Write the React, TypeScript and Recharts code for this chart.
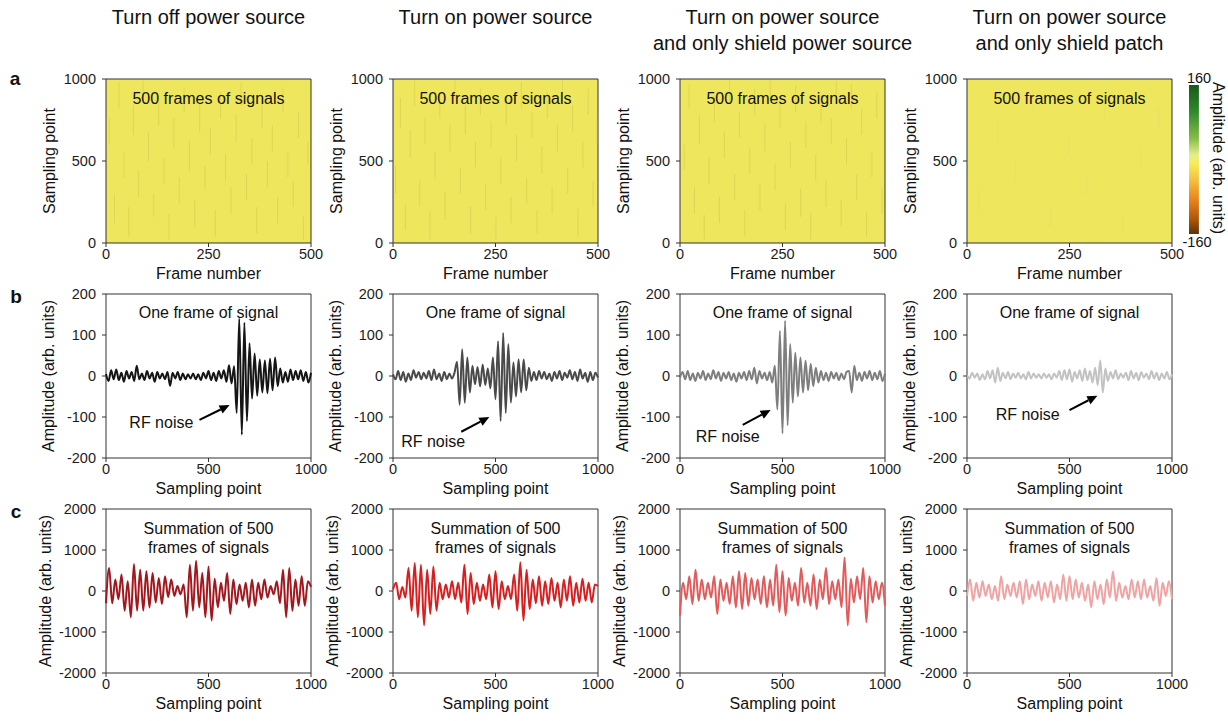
import React from 'react';
import { LineChart, Line, ComposedChart, Bar, BarChart, XAxis, YAxis, ReferenceArea, ReferenceLine } from 'recharts';

const FONT = '"Liberation Sans", Arial, Helvetica, sans-serif';

// layout of the 4x3 grid (plot-area pixels)
const COLS = [106, 393, 680, 967];
const ROWS = [79, 294, 509];
const PW = 205;
const PH = 164;

const COL_TITLES = [
  ['Turn off power source'],
  ['Turn on power source'],
  ['Turn on power source', 'and only shield power source'],
  ['Turn on power source', 'and only shield patch'],
];

// row a: streaks in the 500-frame maps [frame, from, to]
const HEAT1 = [[8,600,760],[20,120,300],[31,820,980],[43,400,560],[55,40,220],[66,660,840],[79,280,440],[90,860,990],[103,500,680],[116,160,300],[128,720,880],[141,360,520],[153,20,180],[165,580,760],[178,240,400],[190,800,940],[203,440,620],[216,100,260],[228,680,860],[241,320,470],[254,540,700],[266,40,200],[279,760,920],[291,380,540],[304,180,340],[317,620,780],[329,840,980],[342,260,420],[355,480,640],[367,60,220],[380,700,860],[393,340,500],[405,560,720],[418,120,280],[431,800,950],[443,400,560],[456,220,380],[469,640,800],[481,20,160],[492,480,620]];
const HEAT2 = [[5,300,470],[17,700,880],[29,80,240],[41,520,690],[52,840,990],[64,220,380],[77,600,760],[89,20,190],[101,400,560],[113,760,920],[126,140,310],[138,560,720],[150,880,990],[163,300,460],[175,660,840],[188,60,220],[200,460,620],[212,780,940],[225,200,360],[238,580,740],[250,20,160],[262,360,520],[275,720,890],[287,120,280],[300,500,660],[312,820,980],[325,240,400],[338,640,800],[350,60,200],[362,420,590],[375,760,920],[387,180,340],[400,560,720],[412,880,990],[425,300,460],[437,680,840],[450,40,210],[462,460,620],[475,780,940],[487,220,380],[497,600,760]];
const HEAT3 = [[10,440,600],[22,820,970],[35,180,340],[47,600,780],[59,20,170],[71,360,520],[84,740,900],[96,120,280],[108,520,680],[121,860,990],[133,260,420],[145,640,800],[158,40,200],[170,420,580],[182,780,940],[195,200,360],[207,560,730],[220,880,990],[232,320,480],[244,700,860],[257,80,240],[269,460,620],[282,800,960],[294,160,330],[307,580,740],[319,20,180],[331,380,540],[344,740,900],[356,220,380],[369,600,760],[381,860,990],[393,100,260],[406,480,640],[418,820,970],[431,260,420],[443,660,820],[455,40,190],[468,400,560],[480,760,920],[493,180,340]];
const HEAT4 = [[30,200,320],[75,620,740],[118,380,500],[160,820,940],[205,100,220],[248,540,660],[292,300,420],[336,760,880],[380,60,180],[424,460,580],[468,700,820]];
const HEAT_SETS = [HEAT1, HEAT2, HEAT3, HEAT4];

// row b: one frame of signal, 81 samples over 0..1000
const B1 = [5,-12,14,-8,16,-10,8,-14,12,-6, 10,-12,25,-8,6,-10,12,-6,8,-14, 10,-6,6,-8,10,-24,8,-6,10,-10, 6,-8,4,-6,6,-8,4,-10,8,-6, 12,-10,8,-12,12,-6,14,-14,26,-18, 24,-90,140,-143,130,-110,80,-55,55,-48, 40,-40,38,-42,42,-35,45,-25,18,-16, 10,-14,16,-10,12,-8,14,-12,10,-16, 8];
const B2 = [4,-8,12,-10,10,-14,6,-10,14,-4, 10,-8,8,-6,12,-10,16,-8,6,-12, 10,-8,6,-6,8,35,-70,65,-65,45, -40,25,-20,22,-25,28,-22,18,-30,45, -57,85,-110,105,-90,78,-65,33,-50,40, -40,40,-35,20,-12,10,-10,12,-6,10, -8,6,-12,10,-6,12,-10,8,-4,14, -8,10,-12,16,-6,8,-14,10,-10,8, -4];
const B3 = [-4,10,-8,12,-10,6,-12,8,-6,12, -10,6,-8,14,-6,10,-12,8,-6,10, -10,6,-14,8,-6,10,-10,12,-8,20, -18,12,-6,8,-10,10,-16,25,-82,110, -140,135,-120,78,-65,57,-50,45,-40,37, -35,30,-25,20,-16,12,-10,8,-12,10, -6,8,-10,6,-8,10,12,-40,25,-10, 8,-12,10,-6,12,-10,8,-8,12,-12, 6];
const B4 = [2,-6,8,-4,6,-10,4,-8,12,-6, 14,-16,20,-12,8,-6,10,-8,6,-4, 8,-6,4,-8,10,-6,6,-4,4,-6, 6,-4,4,-8,6,-4,12,-10,14,-8, 16,-14,10,-6,14,-12,18,-10,12,-16, 20,-22,38,-40,18,-12,10,-6,14,-8, 6,-4,8,-10,12,-6,8,-10,10,-4, 6,-8,12,-6,8,-10,6,-6,10,-8, 4];
const B_SETS = [B1, B2, B3, B4];
const B_COLORS = ['#151515', '#4a4a4a', '#7e7e7e', '#c2c2c2'];

// row b annotations: arrow from -> to, label centre (data units)
const B_ARROWS = [
  { from: [456, -107], to: [603, -71], text: [270, -115] },
  { from: [333, -136], to: [470, -100], text: [196, -162] },
  { from: [306, -119], to: [442, -83], text: [233, -148] },
  { from: [500, -83], to: [636, -48], text: [296, -95] },
];

// row c: summation of 500 frames, 67 samples over 0..1000
const C1 = [-300,560,-300,280,-200,400,-480,240,-640,660, -480,520,-480,480,-400,440,-280,320,-320,360, -150,280,-120,120,-80,160,-640,640,-480,740, -400,440,-640,600,-720,300,-400,200,-240,440, -560,280,-320,160,-240,200,-400,280,-360,200, -200,280,-160,120,-80,240,-300,520,-640,560, -480,280,-360,360,-360,240,100];
const C2 = [40,200,-200,100,-160,560,-480,680,-640,640, -840,520,-560,600,-480,200,-200,160,-160,240, -200,200,-280,640,-560,440,-320,200,-240,160, -200,400,-400,480,-440,240,-200,120,-200,400, -480,700,-720,520,-440,280,-300,360,-360,240, -320,320,-240,200,-400,280,-240,360,-360,200, -280,300,-240,200,-280,160,120];
const C3 = [-600,200,-200,360,-320,520,-240,280,-200,200, -160,360,-560,280,-240,200,-320,360,-400,480, -440,440,-360,320,-200,280,-320,360,-400,280, -360,640,-520,480,-600,320,-240,200,-360,560, -280,200,-360,400,-440,280,-200,560,-320,240, -200,280,-400,820,-840,300,-280,360,-200,560, -760,360,-280,240,-200,200,-360];
const C4 = [-120,280,-240,200,-160,240,-120,160,-200,120, -240,360,-200,160,-120,200,-160,240,-320,280, -200,160,-120,240,-240,200,-160,240,-280,160, -200,400,-240,360,-200,280,-160,200,-240,160, -400,240,-200,160,-320,280,-160,480,-240,200, -160,120,-200,280,-160,240,-200,280,-160,120, -240,320,-360,200,-120,240,-200];
const C_SETS = [C1, C2, C3, C4];
const C_COLORS = ['#a3161c', '#d81e1e', '#e25a5a', '#f0a3a3'];

const HEAT_YELLOW = '#eee75d';
const tick = { fontSize: 14.5, fill: '#1c1c1c', fontFamily: FONT };

function Txt({ x, y, children, size = 16, bold = false, rotate = 0 }: any) {
  return (
    <div style={{ position: 'absolute', left: x, top: y, transform: `translate(-50%,-50%) rotate(${rotate}deg)`,
      fontSize: size, fontWeight: bold ? 700 : 400, whiteSpace: 'nowrap', lineHeight: 1, color: '#111', fontFamily: FONT }}>
      {children}
    </div>
  );
}

const Arrow = (p: any) => {
  const { x1, y1, x2, y2 } = p;
  const a = Math.atan2(y2 - y1, x2 - x1);
  const L = 10, W = 4.5;
  const bx = x2 - L * Math.cos(a), by = y2 - L * Math.sin(a);
  const pts = `${x2},${y2} ${bx - W * Math.sin(a)},${by + W * Math.cos(a)} ${bx + W * Math.sin(a)},${by - W * Math.cos(a)}`;
  return (
    <g>
      <line x1={x1} y1={y1} x2={bx} y2={by} stroke="#000" strokeWidth={2} />
      <polygon points={pts} fill="#000" />
    </g>
  );
};

const MARGIN = { top: 10, right: 25, bottom: 0, left: 0 };
const CW = PW + 95;
const CH = PH + 55;

function HeatPanel({ col }: { col: number }) {
  const left = COLS[col], top = ROWS[0];
  const data = HEAT_SETS[col].map(([f, a, b]) => ({ f, r: [a, b] }));
  return (
    <div style={{ position: 'absolute', left: left - 70, top: top - 10 }}>
      <ComposedChart width={CW} height={CH} data={data} margin={MARGIN}>
        <XAxis type="number" dataKey="f" domain={[0, 500]} ticks={[0, 250, 500]} height={45} axisLine={false}
          stroke="#333" tickSize={4} tick={tick} />
        <YAxis type="number" domain={[0, 1000]} ticks={[0, 500, 1000]} width={70} axisLine={false}
          stroke="#333" tickSize={4} tickMargin={6} tick={tick} />
        <ReferenceArea x1={0} x2={500} y1={0} y2={1000} fill={HEAT_YELLOW} fillOpacity={1} stroke="#333" />
        <Bar dataKey="r" barSize={1} fill={col === 3 ? '#d9d46e' : '#c9b84a'} fillOpacity={col === 3 ? 0.35 : 0.4}
          isAnimationActive={false} />
      </ComposedChart>
    </div>
  );
}

function LinePanel({ col, row }: { col: number; row: number }) {
  const left = COLS[col], top = ROWS[row];
  const values = row === 1 ? B_SETS[col] : C_SETS[col];
  const yMax = row === 1 ? 200 : 2000;
  const yTicks = [-yMax, -yMax / 2, 0, yMax / 2, yMax];
  const data = values.map((v, i) => ({ x: (i * 1000) / (values.length - 1), y: v }));
  const arrow = row === 1 ? B_ARROWS[col] : null;
  return (
    <div style={{ position: 'absolute', left: left - 70, top: top - 10 }}>
      <LineChart width={CW} height={CH} data={data} margin={MARGIN}>
        <XAxis type="number" dataKey="x" domain={[0, 1000]} ticks={[0, 500, 1000]} height={45} axisLine={false}
          stroke="#333" tickSize={4} tick={tick} />
        <YAxis type="number" domain={[-yMax, yMax]} ticks={yTicks} width={70} axisLine={false}
          stroke="#333" tickSize={4} tickMargin={6} tick={tick} />
        <ReferenceArea x1={0} x2={1000} y1={-yMax} y2={yMax} fill="none" stroke="#333" />
        <Line type="monotone" dataKey="y" stroke={row === 1 ? B_COLORS[col] : C_COLORS[col]} strokeWidth={2}
          dot={false} isAnimationActive={false} />
        {arrow && (
          <ReferenceLine segment={[{ x: arrow.from[0], y: arrow.from[1] }, { x: arrow.to[0], y: arrow.to[1] }]}
            shape={Arrow} />
        )}
      </LineChart>
    </div>
  );
}

function ColorBar() {
  return (
    <div style={{ position: 'absolute', left: 1188, top: 85 }}>
      <BarChart width={11} height={149} data={[{ k: 'amp', v: [-160, 160] }]} margin={{ top: 0, right: 0, bottom: 0, left: 0 }}
        barCategoryGap={0}>
        <defs>
          <linearGradient id="cbar" x1="0" y1="0" x2="0" y2="1">
            <stop offset="0%" stopColor="#185a18" />
            <stop offset="18%" stopColor="#2f8a2c" />
            <stop offset="36%" stopColor="#86bd48" />
            <stop offset="47%" stopColor="#e6ee8a" />
            <stop offset="53%" stopColor="#f6ec55" />
            <stop offset="64%" stopColor="#f3bf3e" />
            <stop offset="77%" stopColor="#e8841a" />
            <stop offset="90%" stopColor="#b05608" />
            <stop offset="100%" stopColor="#5a3408" />
          </linearGradient>
        </defs>
        <XAxis dataKey="k" hide />
        <YAxis domain={[-160, 160]} hide />
        <Bar dataKey="v" fill="url(#cbar)" barSize={11} isAnimationActive={false} />
      </BarChart>
    </div>
  );
}

export default function App() {
  const cx = (c: number) => COLS[c] + PW / 2;
  const toPx = (c: number, row: number, x: number, y: number) => {
    const yMax = row === 1 ? 200 : 2000;
    return [COLS[c] + (x / 1000) * PW, ROWS[row] + ((yMax - y) / (2 * yMax)) * PH];
  };
  return (
    <div style={{ position: 'absolute', left: 0, top: 0, width: 1228, height: 721, background: '#fff', fontFamily: FONT, overflow: 'hidden' }}>
      {COL_TITLES.map((lines, c) => lines.map((s, j) => (
        <Txt key={`t${c}${j}`} x={cx(c)} y={17 + j * 26} size={20}>{s}</Txt>
      )))}
      <Txt x={15} y={78} size={19} bold>a</Txt>
      <Txt x={16} y={296} size={19} bold>b</Txt>
      <Txt x={16} y={511} size={19} bold>c</Txt>

      {[0, 1, 2, 3].map((c) => <HeatPanel key={`h${c}`} col={c} />)}
      {[0, 1, 2, 3].map((c) => <LinePanel key={`b${c}`} col={c} row={1} />)}
      {[0, 1, 2, 3].map((c) => <LinePanel key={`c${c}`} col={c} row={2} />)}

      {[0, 1, 2, 3].map((c) => (
        <React.Fragment key={`l${c}`}>
          <Txt x={cx(c)} y={ROWS[0] + 20}>500 frames of signals</Txt>
          <Txt x={cx(c)} y={ROWS[1] + 19}>One frame of signal</Txt>
          <Txt x={cx(c)} y={ROWS[2] + 20}>Summation of 500</Txt>
          <Txt x={cx(c)} y={ROWS[2] + 39}>frames of signals</Txt>
          <Txt x={cx(c)} y={ROWS[0] + PH + 31}>Frame number</Txt>
          <Txt x={cx(c)} y={ROWS[1] + PH + 31}>Sampling point</Txt>
          <Txt x={cx(c)} y={ROWS[2] + PH + 31}>Sampling point</Txt>
          <Txt x={COLS[c] - 56} y={ROWS[0] + PH / 2} rotate={-90}>Sampling point</Txt>
          <Txt x={COLS[c] - 57} y={ROWS[1] + PH / 2} rotate={-90}>Amplitude (arb. units)</Txt>
          <Txt x={COLS[c] - 60} y={ROWS[2] + PH / 2} rotate={-90}>Amplitude (arb. units)</Txt>
          {(() => {
            const [tx, ty] = toPx(c, 1, B_ARROWS[c].text[0], B_ARROWS[c].text[1]);
            return <Txt x={tx} y={ty}>RF noise</Txt>;
          })()}
        </React.Fragment>
      ))}

      <ColorBar />
      <Txt x={1199} y={78} size={14.5}>160</Txt>
      <Txt x={1197} y={242} size={14.5}>-160</Txt>
      <Txt x={1218} y={158} rotate={90}>Amplitude (arb. units)</Txt>
    </div>
  );
}
